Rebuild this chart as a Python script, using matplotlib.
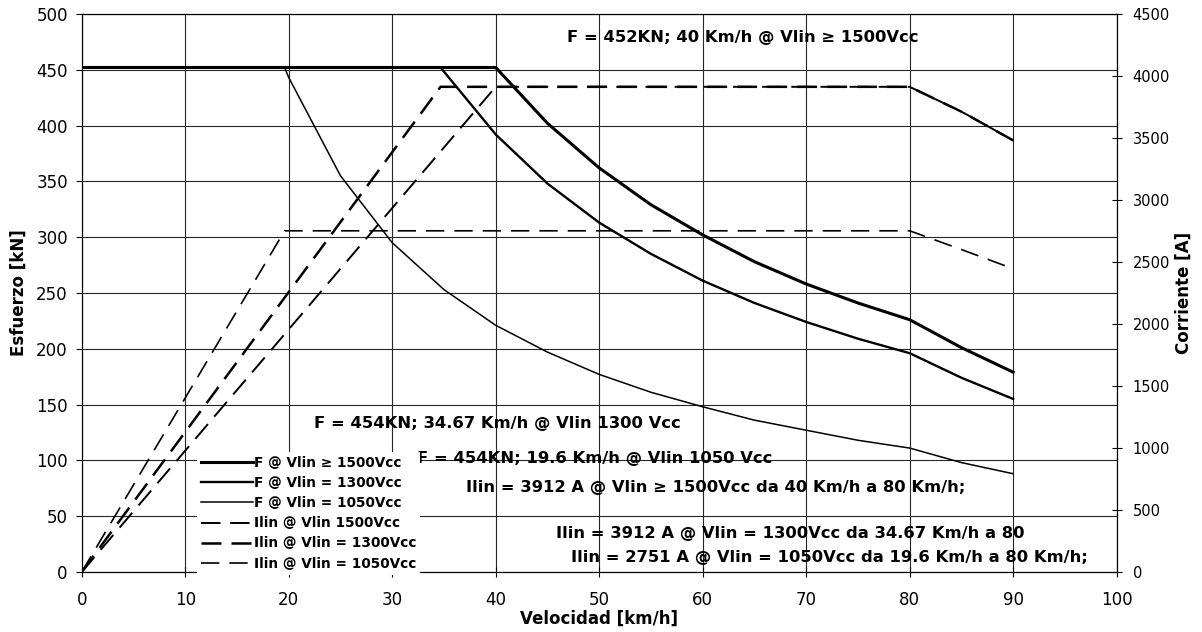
import matplotlib
matplotlib.use("Agg")
import matplotlib.pyplot as plt

plt.rcParams['font.family'] = ['DejaVu Sans']

# traction effort [kN] vs speed [km/h]
v_f1500 = [0, 40, 45, 50, 55, 60, 65, 70, 75, 80, 85, 90]
f1500 = [452, 452, 402, 362, 329, 302, 278, 258, 241, 226, 201, 179]

v_f1300 = [0, 34.67, 40, 45, 50, 55, 60, 65, 70, 75, 80, 85, 90]
f1300 = [452, 452, 392, 348, 313, 285, 261, 241, 224, 209, 196, 174, 155]

v_f1050 = [0, 19.6, 20, 25, 30, 35, 40, 45, 50, 55, 60, 65, 70, 75, 80, 85, 90]
f1050 = [452, 452, 443, 355, 295, 253, 221, 197, 177, 161, 148, 136, 127, 118, 111, 98, 88]

# line current [A] vs speed
v_i1500 = [0, 40, 80, 85, 90]
i1500 = [0, 3912, 3912, 3712, 3480]

v_i1300 = [0, 34.67, 80, 85, 90]
i1300 = [0, 3912, 3912, 3712, 3480]

v_i1050 = [0, 19.6, 80, 85, 90]
i1050 = [0, 2751, 2751, 2600, 2445]

labels = ['F @ Vlin \u2265 1500Vcc', 'F @ Vlin = 1300Vcc', 'F @ Vlin = 1050Vcc',
          'Ilin @ Vlin 1500Vcc', 'Ilin @ Vlin = 1300Vcc', 'Ilin @ Vlin = 1050Vcc']

notes = [
    (46.9, 479, 'F = 452KN; 40 Km/h @ Vlin \u2265 1500Vcc'),
    (22.4, 133, 'F = 454KN; 34.67 Km/h @ Vlin 1300 Vcc'),
    (32.4, 102, 'F = 454KN; 19.6 Km/h @ Vlin 1050 Vcc'),
    (37.1, 76, 'Ilin = 3912 A @ Vlin \u2265 1500Vcc da 40 Km/h a 80 Km/h;'),
    (45.8, 34.6, 'Ilin = 3912 A @ Vlin = 1300Vcc da 34.67 Km/h a 80'),
    (47.3, 13.2, 'Ilin = 2751 A @ Vlin = 1050Vcc da 19.6 Km/h a 80 Km/h;'),
]

fig = plt.figure(figsize=(12.02, 6.32), dpi=100)
ax = fig.add_axes([0.068, 0.095, 0.861, 0.883])
ax2 = ax.twinx()

l1, = ax.plot(v_f1500, f1500, color='black', lw=2.2)
l2, = ax.plot(v_f1300, f1300, color='black', lw=1.7)
l3, = ax.plot(v_f1050, f1050, color='black', lw=1.1)

d1, = ax2.plot(v_i1500, i1500, color='black', lw=1.4, dashes=(10, 5))
d2, = ax2.plot(v_i1300, i1300, color='black', lw=1.8, dashes=(8, 4))
d3, = ax2.plot(v_i1050, i1050, color='black', lw=1.2, dashes=(11, 6))

ax.set_xlim(0, 100)
ax.set_ylim(0, 500)
ax2.set_ylim(0, 4500)
ax.set_xticks(range(0, 101, 10))
ax.set_yticks(range(0, 501, 50))
ax2.set_yticks(range(0, 4501, 500))
ax.grid(True, color='0.15', lw=0.8)
ax.set_axisbelow(True)

ax.tick_params(axis='x', labelsize=12, direction='inout', length=7, pad=10)
ax.tick_params(axis='y', labelsize=12, direction='out', length=4, pad=6)
ax2.tick_params(axis='y', labelsize=10.5, direction='inout', length=7, pad=8)

ax.set_xlabel('Velocidad [km/h]', fontsize=12, fontweight='bold', labelpad=1)
ax.set_ylabel('Esfuerzo [kN]', fontsize=12, fontweight='bold', labelpad=6)
ax2.set_ylabel('Corriente [A]', fontsize=12, fontweight='bold', labelpad=3)

for x, y, s in notes:
    ax.text(x, y, s, fontsize=11.8, fontweight='bold', ha='left', va='center')

leg = ax2.legend([l1, l2, l3, d1, d2, d3], labels, loc='lower left',
                 bbox_to_anchor=(0.105, -0.017), frameon=True, fancybox=False,
                 edgecolor='none', facecolor='white', framealpha=1,
                 prop={'weight': 'bold', 'size': 9.8}, handlelength=3.8,
                 handletextpad=0.05, labelspacing=0.45, borderpad=0.3)

fig.savefig('out.png', dpi=100)
